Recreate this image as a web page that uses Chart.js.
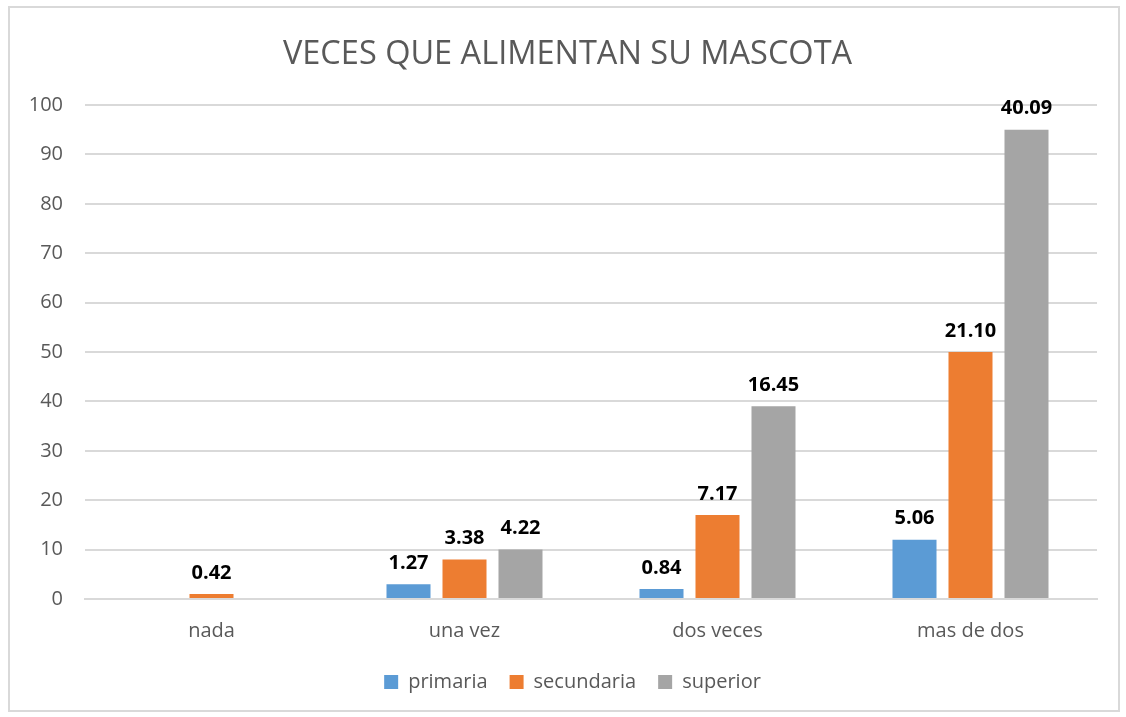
<!DOCTYPE html>
<html>
<head>
<meta charset="utf-8">
<script src="https://cdn.jsdelivr.net/npm/chart.js@4.4.0/dist/chart.umd.min.js"></script>
<style>
  body { margin: 0; background: #fff; }
  #frame { position: absolute; left: 8px; top: 6px; width: 1108px; height: 702px; border: 2px solid #d9d9d9; }
  canvas { position: absolute; left: 0; top: 0; }
</style>
</head>
<body>
<div id="frame"></div>
<canvas id="chart" width="1126" height="717"></canvas>
<script>
// categories and series
var categories = ['nada', 'una vez', 'dos veces', 'mas de dos'];
var primaria = [0, 3, 2, 12];
var secundaria = [1, 8, 17, 50];
var superior = [0, 10, 39, 95];
// percentages shown above the bars
var primariaLabels = [null, '1.27', '0.84', '5.06'];
var secundariaLabels = ['0.42', '3.38', '7.17', '21.10'];
var superiorLabels = [null, '4.22', '16.45', '40.09'];

var fontName = '"Open Sans", sans-serif';
var textColor = '#595959';

// draws the bold labels above each bar
var barLabels = {
    id: 'barLabels',
    afterDatasetsDraw: function (chart) {
        var ctx = chart.ctx;
        ctx.save();
        ctx.font = 'bold 20px ' + fontName;
        ctx.fillStyle = '#000';
        ctx.textAlign = 'center';
        ctx.textBaseline = 'bottom';
        chart.data.datasets.forEach(function (ds, i) {
            var meta = chart.getDatasetMeta(i);
            meta.data.forEach(function (bar, j) {
                var txt = ds.pctLabels[j];
                if (txt) ctx.fillText(txt, bar.x, bar.y - 11);
            });
        });
        ctx.restore();
    }
};

// title and legend sit a bit right of centre in the original
var centreShift = {
    id: 'centreShift',
    afterLayout: function (chart) {
        chart.legend.left += 24;
        chart.legend.right += 24;
        chart.titleBlock.left += 19;
        chart.titleBlock.right += 19;
    }
};

var ctx = document.getElementById('chart').getContext('2d');
new Chart(ctx, {
    type: 'bar',
    data: {
        labels: categories,
        datasets: [{
            label: 'primaria',
            backgroundColor: '#5b9bd5',
            data: primaria,
            pctLabels: primariaLabels
        }, {
            label: 'secundaria',
            backgroundColor: '#ed7d31',
            data: secundaria,
            pctLabels: secundariaLabels
        }, {
            label: 'superior',
            backgroundColor: '#a5a5a5',
            data: superior,
            pctLabels: superiorLabels
        }]
    },
    options: {
        responsive: false,
        animation: false,
        categoryPercentage: 0.664,
        barPercentage: 0.786,
        layout: { padding: { left: 0, right: 29, top: 0, bottom: 15 } },
        plugins: {
            title: {
                display: true,
                text: 'VECES QUE ALIMENTAN SU MASCOTA',
                color: textColor,
                font: { family: fontName, size: 32.5, weight: 'normal' },
                padding: { top: 35, bottom: 31 }
            },
            legend: {
                position: 'bottom',
                labels: {
                    color: textColor,
                    font: { family: fontName, size: 20 },
                    boxWidth: 14,
                    boxHeight: 14,
                    padding: 22
                }
            },
            tooltip: { enabled: false }
        },
        scales: {
            x: {
                grid: { display: false },
                border: { color: '#d9d9d9', width: 2 },
                ticks: {
                    color: textColor,
                    font: { family: fontName, size: 20 },
                    padding: 12
                },
                afterFit: function (scale) { scale.height = 51; }
            },
            y: {
                min: 0,
                max: 100,
                ticks: {
                    stepSize: 10,
                    color: textColor,
                    font: { family: fontName, size: 20 },
                    padding: 22
                },
                grid: { color: '#d9d9d9', lineWidth: 2, drawTicks: false },
                border: { display: false },
                afterFit: function (scale) { scale.width = 85; }
            }
        }
    },
    plugins: [barLabels, centreShift]
});
</script>
</body>
</html>
